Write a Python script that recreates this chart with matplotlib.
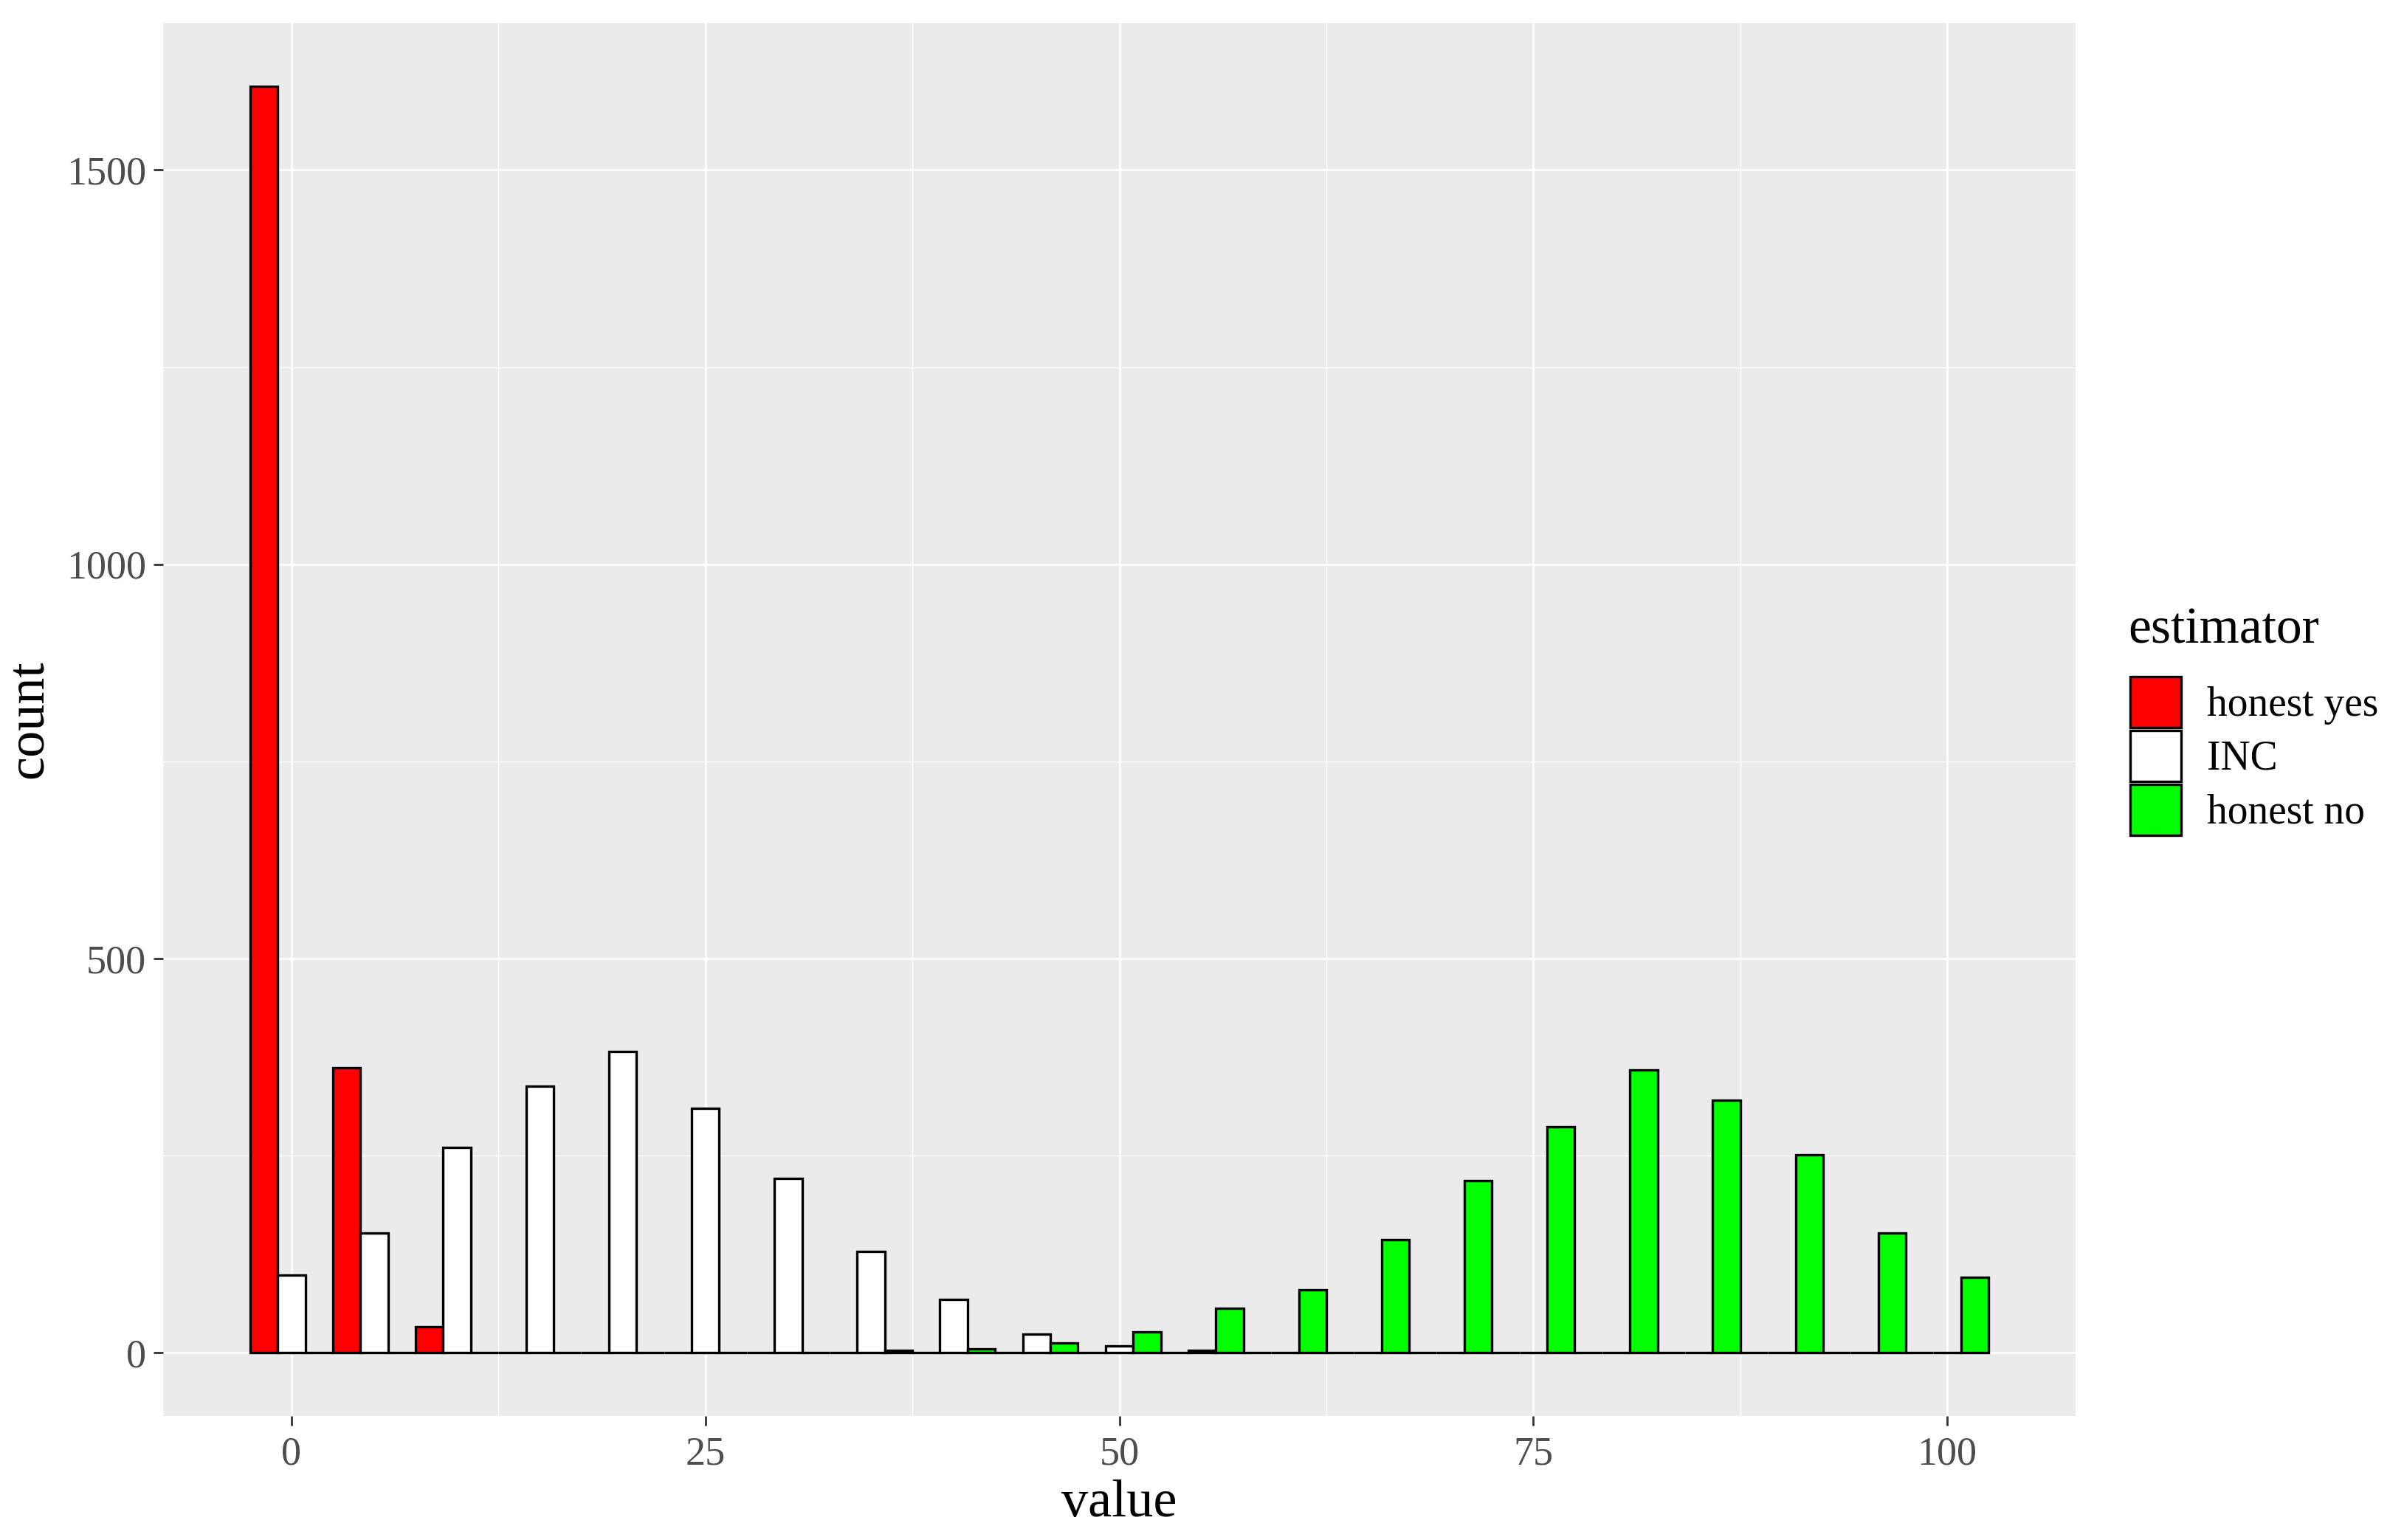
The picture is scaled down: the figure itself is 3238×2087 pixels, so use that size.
import numpy as np
import matplotlib
matplotlib.use("Agg")
import matplotlib.pyplot as plt
from matplotlib.patches import Patch
from matplotlib.ticker import MultipleLocator

# histogram counts, bins of width 5 centred on 0, 5, ..., 100
bins = np.arange(0, 105, 5)
honest_yes = [1606, 361, 33, 0, 0, 0, 0, 0, 0, 0, 0, 0, 0, 0, 0, 0, 0, 0, 0, 0, 0]
inc = [98, 152, 260, 338, 382, 310, 221, 128, 68, 24, 9, 3, 0, 0, 0, 0, 0, 0, 0, 0, 0]
honest_no = [0, 0, 0, 0, 0, 0, 0, 3, 5, 12, 26, 56, 80, 143, 218, 287, 359, 320, 251, 152, 96]

groups = ["honest yes", "INC", "honest no"]
colors = ["#FF0000", "#FFFFFF", "#00FF00"]

plt.rcParams["font.family"] = ["Liberation Serif", "DejaVu Serif"]

fig = plt.figure(figsize=(16.19, 10.435), dpi=200)
ax = fig.add_axes([221 / 3238, 1 - 1919 / 2087, (2812 - 221) / 3238, (1919 - 31) / 2087])
ax.set_facecolor("#EBEBEB")

w = 5 / 3
for i, (vals, col) in enumerate(zip([honest_yes, inc, honest_no], colors)):
    ax.bar(bins + (i - 1) * w, vals, width=w, color=col, edgecolor="black",
           linewidth=1.2, zorder=3)

ax.set_xlim(-7.75, 107.75)
ax.set_ylim(-80.3, 1686.6)
ax.xaxis.set_major_locator(MultipleLocator(25))
ax.xaxis.set_minor_locator(MultipleLocator(12.5))
ax.yaxis.set_major_locator(MultipleLocator(500))
ax.yaxis.set_minor_locator(MultipleLocator(250))
ax.grid(True, which="major", color="white", linewidth=1.0, zorder=0)
ax.grid(True, which="minor", color="white", linewidth=0.5, zorder=0)
ax.set_axisbelow(True)
for s in ax.spines.values():
    s.set_visible(False)

ax.tick_params(which="major", length=4.7, width=1.0, color="#333333",
               labelcolor="#4D4D4D", labelsize=19.5)
ax.tick_params(axis="x", pad=5)
ax.tick_params(axis="y", pad=3.6)
ax.tick_params(which="minor", length=0)

ax.set_xlabel("value", fontsize=26, labelpad=3)
ax.set_ylabel("count", fontsize=26, labelpad=6.5)

# legend: title drawn as its own text so the gap to the keys can be set
fig.text(2883 / 3238, 1 - 855 / 2087, "estimator", fontsize=25,
         ha="left", va="center")
handles = [Patch(facecolor=c, edgecolor="black", linewidth=1.2) for c in colors]
leg = fig.legend(handles, groups, loc="upper left",
                 bbox_to_anchor=(2886 / 3238, 1 - 917 / 2087),
                 frameon=False, fontsize=20,
                 handlelength=1.24, handleheight=1.53, labelspacing=0.072,
                 handletextpad=0.63, borderpad=0, borderaxespad=0)

fig.savefig("out.png", dpi=200)
